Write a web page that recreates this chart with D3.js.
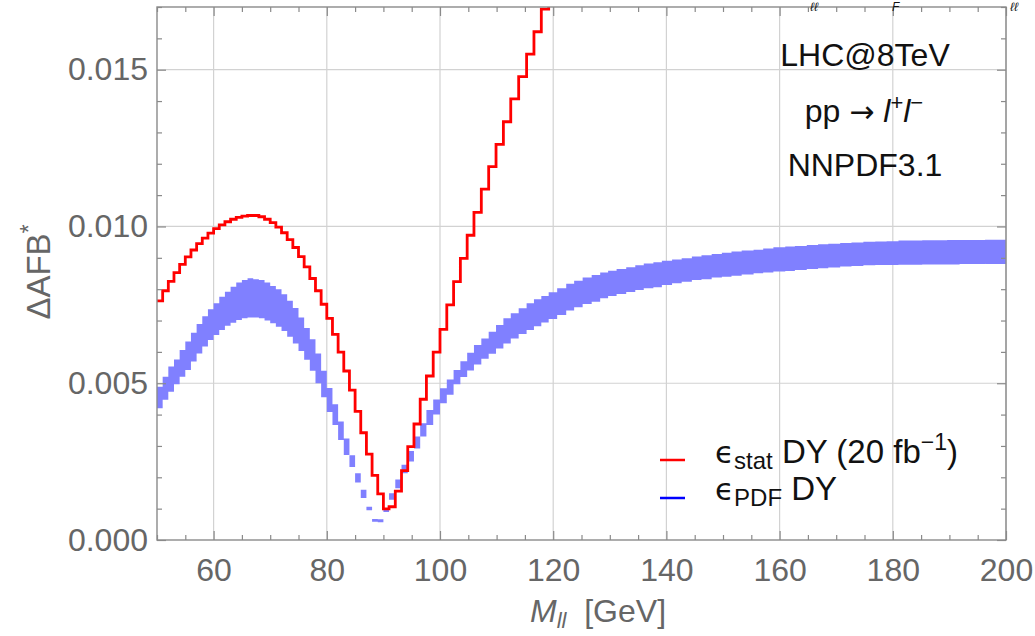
<!DOCTYPE html>
<html><head><meta charset="utf-8">
<script src="https://cdn.jsdelivr.net/npm/d3@7"></script>
<style>
body{margin:0;background:#fff}
svg{display:block}
text{font-family:"Liberation Sans",Arial,"DejaVu Sans",sans-serif}
</style>
</head><body>
<svg id="chart" width="1035" height="636"></svg>
<script>
// ---- data ----
const binEdges = [50,51,52,53,54,55,56,57,58,59,60,61,62,63,64,65,66,67,68,69,70,71,72,73,74,75,76,77,78,79,80,81,82,83,84,85,86,87,88,89,90,91,
  92.1,93.2,94.3,95.4,96.5,97.6,98.8,100.0,101.2,102.4,103.6,104.8,106.0,107.3,108.6,109.9,111.2,112.5,113.9,115.3,116.6,117.9,119.2,
  120.7,122.3,123.7,125.2,126.8,128.3,129.7,131.2,132.9,134.5,136.0,137.7,139.2,141.0,142.7,144.5,146.2,148.0,149.8,151.5,153.3,155.4,
  157.1,158.9,161.0,162.7,164.8,166.8,168.6,170.7,172.7,174.8,176.9,178.9,181.0,183.1,185.2,187.4,189.6,191.8,194.0,196.3,198.6,200];

const statDY = [0.00763,0.00795,0.00825,0.00853,0.00879,0.00903,0.00925,0.00945,0.00963,0.00979,
  0.00993,0.01005,0.01015,0.01023,0.01029,0.01033,0.01035,0.01035,0.01031,0.01023,
  0.01012,0.00998,0.00980,0.00958,0.00933,0.00904,0.00871,0.00834,0.00795,0.00752,
  0.00707,0.00656,0.00599,0.00539,0.00478,0.00410,0.00342,0.00274,0.00206,0.00147,0.00099,
  0.00106,0.00156,0.00221,0.00298,0.00370,0.00449,0.00523,0.00599,0.00672,0.00750,
  0.00824,0.00898,0.00972,0.01045,0.01119,0.01191,0.01262,0.01334,0.01407,0.01478,0.01550,0.01621,0.01693,0.01770];

const pdfHigh = [0.00489,0.00521,0.00553,0.00576,0.00606,0.00633,0.00661,0.00689,0.00714,0.00736,
  0.00755,0.00776,0.00792,0.00808,0.00821,0.00829,0.00835,0.00832,0.00829,0.00821,
  0.00810,0.00800,0.00784,0.00763,0.00740,0.00710,0.00676,0.00640,0.00595,0.00540,
  0.00485,0.00433,0.00378,0.00324,0.00270,0.00213,0.00160,0.00106,0.00067,0.00066,0.00100,
  0.00149,0.00193,0.00240,0.00284,0.00330,0.00372,0.00415,0.00448,0.00484,0.00512,
  0.00542,0.00570,0.00597,0.00622,0.00643,0.00664,0.00686,0.00707,0.00723,0.00739,0.00755,0.00768,0.00778,0.00790,
  0.00803,0.00817,0.00827,0.00837,0.00845,0.00853,0.00859,0.00864,0.00870,0.00876,
  0.00882,0.00886,0.00891,0.00895,0.00899,0.00904,0.00908,0.00912,0.00916,0.00920,
  0.00923,0.00926,0.00930,0.00934,0.00936,0.00938,0.00941,0.00943,0.00945,0.00947,
  0.00949,0.00951,0.00952,0.00953,0.00955,0.00955,0.00956,0.00956,0.00957,0.00957,0.00957,0.00958,0.00958];

const pdfLow = [0.00420,0.00447,0.00473,0.00497,0.00521,0.00542,0.00569,0.00595,0.00617,0.00638,
  0.00654,0.00670,0.00683,0.00693,0.00702,0.00707,0.00710,0.00710,0.00707,0.00700,
  0.00691,0.00680,0.00667,0.00648,0.00627,0.00603,0.00575,0.00540,0.00500,0.00455,
  0.00408,0.00367,0.00319,0.00271,0.00233,0.00183,0.00134,0.00095,0.00058,0.00057,0.00089,
  0.00128,0.00165,0.00213,0.00250,0.00292,0.00330,0.00367,0.00400,0.00436,0.00463,
  0.00497,0.00520,0.00541,0.00560,0.00578,0.00594,0.00611,0.00627,0.00643,0.00657,0.00670,0.00682,0.00694,0.00705,
  0.00718,0.00732,0.00742,0.00753,0.00760,0.00771,0.00778,0.00785,0.00791,0.00797,
  0.00803,0.00806,0.00813,0.00819,0.00824,0.00829,0.00832,0.00837,0.00840,0.00843,
  0.00847,0.00851,0.00853,0.00856,0.00858,0.00861,0.00864,0.00867,0.00869,0.00872,
  0.00874,0.00876,0.00877,0.00877,0.00878,0.00878,0.00879,0.00879,0.00879,0.00880,0.00880,0.00880,0.00880];

const xTickValues = [60,80,100,120,140,160,180,200];
const yTickValues = [0,0.005,0.010,0.015];
const xMinorValues = [50,55,65,70,75,85,90,95,105,110,115,125,130,135,145,150,155,165,170,175,185,190,195];
const yMinorValues = [0.001,0.002,0.003,0.004,0.006,0.007,0.008,0.009,0.011,0.012,0.013,0.014,0.016,0.017];
const annotations = ["LHC@8TeV", "NNPDF3.1"];

// ---- drawing ----
const svg = d3.select("#chart");
const L = 157, R = 1006, T = 7, B = 540;
const x = d3.scaleLinear().domain([50, 200]).range([L, R]);
const y = d3.scaleLinear().domain([0, 0.017]).range([B, T]);
const grey = "#666";
const frameCol = "#8a8a8a";

svg.append("defs").append("clipPath").attr("id", "clip")
  .append("rect").attr("x", L).attr("y", T).attr("width", R - L).attr("height", B - T);

// gridlines
const grid = svg.append("g").attr("stroke", "#d2d2d2").attr("stroke-width", 1.2);
xTickValues.forEach(v => grid.append("line").attr("x1", x(v)).attr("x2", x(v)).attr("y1", T).attr("y2", B));
yTickValues.filter(v => v > 0).forEach(v => grid.append("line").attr("x1", L).attr("x2", R).attr("y1", y(v)).attr("y2", y(v)));

const plot = svg.append("g").attr("clip-path", "url(#clip)");

// PDF band as stepped rectangles
let band = "";
for (let i = 0; i < pdfLow.length; i++) {
  const x0 = x(binEdges[i]), x1 = x(binEdges[i + 1]);
  const y0 = y(pdfHigh[i]), y1 = y(pdfLow[i]);
  band += `M${x0},${y0}H${x1}V${y1}H${x0}Z`;
}
plot.append("path").attr("d", band).attr("fill", "#8080ff");

// stat step line
let step = `M${x(binEdges[0])},${y(statDY[0])}`;
for (let i = 0; i < statDY.length; i++) {
  if (i > 0) step += `V${y(statDY[i])}`;
  step += `H${x(binEdges[i + 1])}`;
}
plot.append("path").attr("d", step).attr("fill", "none").attr("stroke", "#ff0000")
  .attr("stroke-width", 2.8).attr("stroke-linejoin", "miter");

// axes (ticks inward)
function styleAxis(g) {
  g.select(".domain").remove();
  g.selectAll(".tick line").attr("stroke", frameCol).attr("stroke-width", 1.2);
  g.selectAll("text").attr("fill", grey).attr("font-size", 32)
    .attr("font-family", '"Liberation Sans",Arial,sans-serif');
}
svg.append("g").attr("transform", `translate(0,${B})`)
  .call(d3.axisBottom(x).tickValues(xTickValues).tickSize(-9).tickPadding(18).tickFormat(d3.format("d")))
  .call(styleAxis);
svg.append("g").attr("transform", `translate(0,${B})`)
  .call(d3.axisBottom(x).tickValues(xMinorValues).tickSize(-5).tickFormat(""))
  .call(styleAxis);
svg.append("g").attr("transform", `translate(0,${T})`)
  .call(d3.axisTop(x).tickValues(xTickValues).tickSize(-9).tickFormat(""))
  .call(styleAxis);
svg.append("g").attr("transform", `translate(0,${T})`)
  .call(d3.axisTop(x).tickValues(xMinorValues).tickSize(-5).tickFormat(""))
  .call(styleAxis);
svg.append("g").attr("transform", `translate(${L},0)`)
  .call(d3.axisLeft(y).tickValues(yTickValues).tickSize(-9).tickPadding(9).tickFormat(d3.format(".3f")))
  .call(styleAxis);
svg.append("g").attr("transform", `translate(${L},0)`)
  .call(d3.axisLeft(y).tickValues(yMinorValues).tickSize(-5).tickFormat(""))
  .call(styleAxis);
svg.append("g").attr("transform", `translate(${R},0)`)
  .call(d3.axisRight(y).tickValues(yTickValues).tickSize(-9).tickFormat(""))
  .call(styleAxis);
svg.append("g").attr("transform", `translate(${R},0)`)
  .call(d3.axisRight(y).tickValues(yMinorValues).tickSize(-5).tickFormat(""))
  .call(styleAxis);

// frame
svg.append("rect").attr("x", L).attr("y", T).attr("width", R - L).attr("height", B - T)
  .attr("fill", "none").attr("stroke", frameCol).attr("stroke-width", 1.4);

// axis labels
const yl = svg.append("text").attr("transform", "translate(50,272) rotate(-90)")
  .attr("text-anchor", "middle").attr("fill", grey).attr("font-size", 33);
yl.append("tspan").text("ΔAFB");
yl.append("tspan").attr("font-size", 23).attr("dy", -13).text("*");

const xl = svg.append("text").attr("x", 598).attr("y", 622).attr("text-anchor", "middle")
  .attr("fill", grey).attr("font-size", 32);
xl.append("tspan").attr("font-style", "italic").text("M");
xl.append("tspan").attr("font-style", "italic").attr("font-size", 22).attr("dy", 6).text("ll");
xl.append("tspan").attr("dy", -6).attr("xml:space", "preserve").text("  [GeV]");

// annotations
svg.append("text").attr("x", 865).attr("y", 66).attr("text-anchor", "middle").attr("font-size", 32).attr("fill", "#111").text(annotations[0]);
const pp = svg.append("text").attr("x", 864).attr("y", 122).attr("text-anchor", "middle").attr("font-size", 32).attr("fill", "#111");
pp.append("tspan").text("pp ");
pp.append("tspan").attr("font-family", '"DejaVu Sans",sans-serif').attr("font-size", 30).text("→");
pp.append("tspan").text(" ");
pp.append("tspan").attr("font-style", "italic").text("l");
pp.append("tspan").attr("font-size", 22).attr("dy", -12).text("+");
pp.append("tspan").attr("font-style", "italic").attr("dy", 12).text("l");
pp.append("tspan").attr("font-size", 22).attr("dy", -12).text("−");
svg.append("text").attr("x", 865).attr("y", 176).attr("text-anchor", "middle").attr("font-size", 32).attr("fill", "#111").text(annotations[1]);

// small title fragments at the very top edge (kept fully visible)
const tt = svg.append("g").attr("fill", "#111").attr("font-style", "italic").attr("font-size", 12);
tt.append("text").attr("x", 810).attr("y", 11).text("ℓℓ");
tt.append("text").attr("x", 892).attr("y", 11).text("F");
tt.append("text").attr("x", 1010).attr("y", 11).text("ℓℓ");

// legend
const lg = svg.append("g");
lg.append("line").attr("x1", 660).attr("x2", 685).attr("y1", 460).attr("y2", 460).attr("stroke", "#ff0000").attr("stroke-width", 2.5);
lg.append("line").attr("x1", 660).attr("x2", 685).attr("y1", 498).attr("y2", 498).attr("stroke", "#0000ff").attr("stroke-width", 2.5);
const eps = '"DejaVu Sans",sans-serif';
const t1 = lg.append("text").attr("x", 715).attr("y", 463).attr("font-size", 33).attr("fill", "#111");
t1.append("tspan").attr("font-family", eps).attr("font-size", 31).text("ϵ");
t1.append("tspan").attr("font-size", 24).attr("dy", 6).text("stat");
t1.append("tspan").attr("dy", -6).text(" DY (20 fb");
t1.append("tspan").attr("font-size", 23).attr("dy", -13).text("−1");
t1.append("tspan").attr("dy", 13).text(")");
const t2 = lg.append("text").attr("x", 715).attr("y", 500).attr("font-size", 33).attr("fill", "#111");
t2.append("tspan").attr("font-family", eps).attr("font-size", 31).text("ϵ");
t2.append("tspan").attr("font-size", 24).attr("dy", 6).text("PDF");
t2.append("tspan").attr("dy", -6).text(" DY");
</script>
</body></html>
